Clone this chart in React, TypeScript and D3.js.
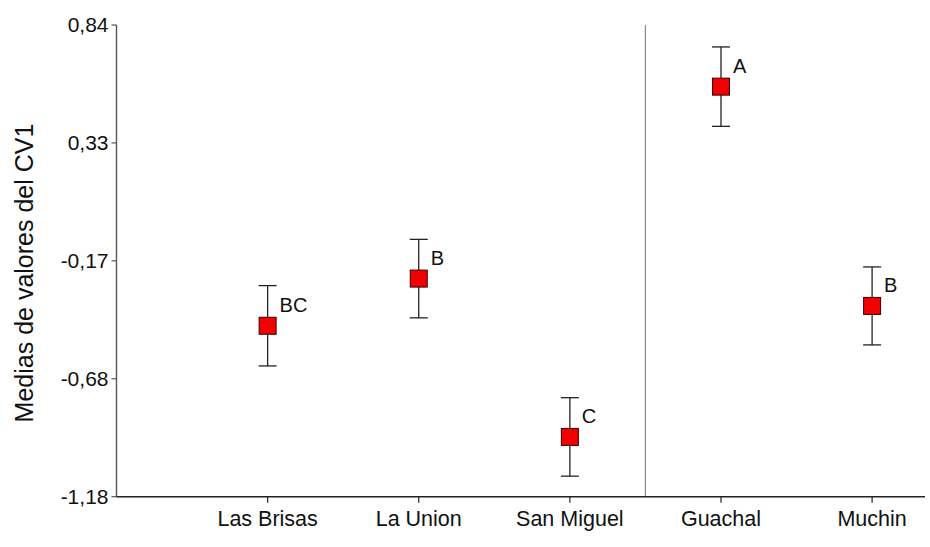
import React from "react";
import * as d3 from "d3";

const categories = ["Las Brisas", "La Union", "San Miguel", "Guachal", "Muchin"];
const means = [-0.448, -0.246, -0.924, 0.576, -0.363];
const errors = [0.172, 0.168, 0.168, 0.17, 0.167];
const letters = ["BC", "B", "C", "A", "B"];
const yTickValues = [0.84, 0.335, -0.17, -0.675, -1.18];
const yTickLabels = ["0,84", "0,33", "-0,17", "-0,68", "-1,18"];
const separatorAt = 3.5;
const yTitle = "Medias de valores del CV1";

const W = 930;
const H = 547;
const FONT = "Arial, 'Liberation Sans', sans-serif";

export default function App() {
  const x = d3.scaleLinear().domain([0, 5.35]).range([116.5, 925]);
  const y = d3.scaleLinear().domain([-1.18, 0.84]).range([496.7, 25]);
  const x0 = x(0);
  const yBottom = y(-1.18);
  const yTop = y(0.84);
  const sq = 17;
  const cap = 9;

  return (
    <svg
      width={W}
      height={H}
      style={{ position: "absolute", left: 0, top: 0, background: "#fff" }}
      fontFamily={FONT}
    >
      <rect x={0} y={0} width={W} height={H} fill="#fff" />
      {/* separator */}
      <line x1={x(separatorAt)} x2={x(separatorAt)} y1={yTop} y2={yBottom} stroke="#8a8a8a" strokeWidth={1.2} />
      {/* y axis */}
      <line x1={x0} x2={x0} y1={yTop} y2={yBottom} stroke="#555" strokeWidth={1.4} />
      {yTickValues.map((v, i) => (
        <g key={"yt" + i}>
          <line x1={x0 - 5} x2={x0} y1={y(v)} y2={y(v)} stroke="#555" strokeWidth={1.2} />
          <text x={x0 - 8} y={y(v)} dy="0.35em" textAnchor="end" fontSize={21} fill="#111">
            {yTickLabels[i]}
          </text>
        </g>
      ))}
      {/* x axis */}
      <line x1={x0} x2={x(5.35)} y1={yBottom} y2={yBottom} stroke="#222" strokeWidth={1.4} />
      {categories.map((c, i) => (
        <g key={"xt" + i}>
          <line x1={x(i + 1)} x2={x(i + 1)} y1={yBottom} y2={yBottom + 6} stroke="#222" strokeWidth={1.2} />
          <text x={x(i + 1)} y={526} textAnchor="middle" fontSize={21.5} fill="#111">
            {c}
          </text>
        </g>
      ))}
      {/* y title */}
      <text
        transform={`translate(33, 273) rotate(-90)`}
        textAnchor="middle"
        fontSize={25}
        fill="#111"
      >
        {yTitle}
      </text>
      {/* points */}
      {categories.map((c, i) => {
        const cx = x(i + 1);
        const cy = y(means[i]);
        const yt = y(means[i] + errors[i]);
        const yb = y(means[i] - errors[i]);
        return (
          <g key={"p" + i}>
            <line x1={cx} x2={cx} y1={yt} y2={yb} stroke="#222" strokeWidth={1.3} />
            <line x1={cx - cap} x2={cx + cap} y1={yt} y2={yt} stroke="#222" strokeWidth={1.3} />
            <line x1={cx - cap} x2={cx + cap} y1={yb} y2={yb} stroke="#222" strokeWidth={1.3} />
            <rect x={cx - sq / 2} y={cy - sq / 2} width={sq} height={sq} fill="#f00000" stroke="#3a0000" strokeWidth={1} />
            <text x={cx + 12} y={cy - 14} fontSize={20} fill="#111">
              {letters[i]}
            </text>
          </g>
        );
      })}
    </svg>
  );
}
